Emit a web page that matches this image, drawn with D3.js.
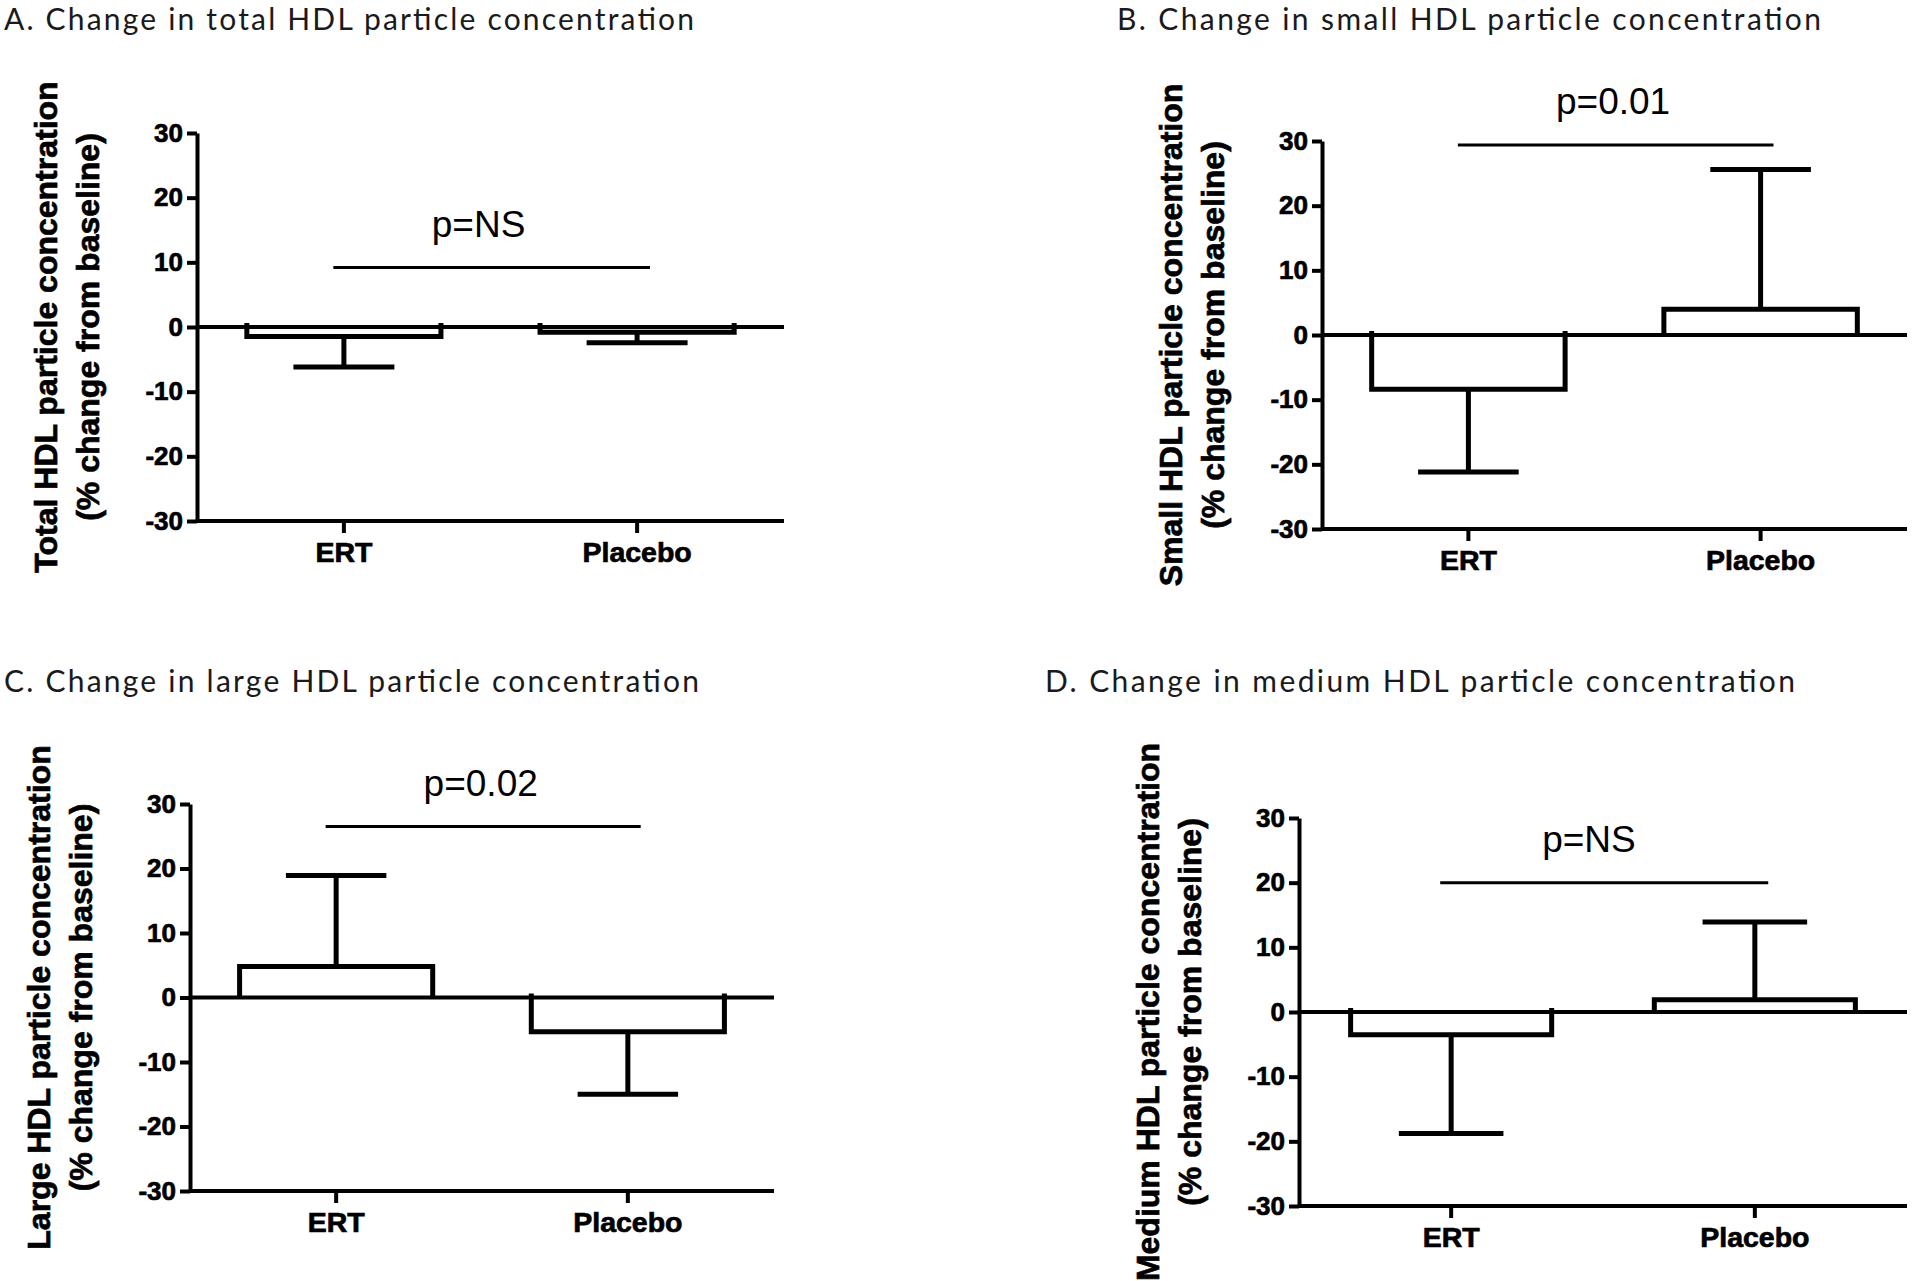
<!DOCTYPE html>
<html>
<head>
<meta charset="utf-8">
<script src="https://cdn.jsdelivr.net/npm/d3@7"></script>
<style>
  html, body { margin: 0; padding: 0; background: #fff; }
  svg { display: block; }
</style>
</head>
<body>
<script>
// ---------------- data ----------------
const categories = ["ERT", "Placebo"];
const panelTitles = [
  "A. Change in total HDL particle concentration",
  "B. Change in small HDL particle concentration",
  "C. Change in large HDL particle concentration",
  "D. Change in medium HDL particle concentration"
];
const yTitleLine1 = [
  "Total HDL particle concentration",
  "Small HDL particle concentration",
  "Large HDL particle concentration",
  "Medium HDL particle concentration"
];
const yTitleLine2 = "(% change from baseline)";
const yTicks = [-30, -20, -10, 0, 10, 20, 30];
const meanA = [-1.45, -0.8];
const meanB = [-8.4, 4.0];
const meanC = [4.8, -5.3];
const meanD = [-3.5, 1.9];
const errA = [4.75, 1.65];
const errB = [12.8, 21.6];
const errC = [14.1, 9.7];
const errD = [15.3, 12.0];
const pLabels = ["p=NS", "p=0.01", "p=0.02", "p=NS"];
const pLineValue = [9.2, 29.4, 26.5, 20.0];

// ---------------- layout ----------------
const W = 1920, H = 1281;
const layouts = [
  { left: 197, right: 784, top: 133, bottom: 521, tx: 4, ty: 30, tw: 690 },
  { left: 1322, right: 1907, top: 141, bottom: 529, tx: 1117, ty: 30, tw: 704 },
  { left: 190, right: 774, top: 804, bottom: 1191, tx: 4, ty: 692, tw: 695 },
  { left: 1299, right: 1907, top: 818, bottom: 1206, tx: 1045, ty: 692, tw: 750 }
];
const means = [meanA, meanB, meanC, meanD];
const errs = [errA, errB, errC, errD];

const svg = d3.select("body").append("svg")
  .attr("width", W).attr("height", H)
  .attr("viewBox", `0 0 ${W} ${H}`);

const boldFont = "Liberation Sans, Arial, sans-serif";

function boldText(sel, size) {
  sel.attr("font-family", boldFont).attr("font-weight", "bold")
    .attr("font-size", size).attr("fill", "#000")
    .attr("stroke", "#000").attr("stroke-width", 0.7);
}

layouts.forEach((pl, i) => {
  const g = svg.append("g");
  const y = d3.scaleLinear().domain([-30, 30]).range([pl.bottom, pl.top]);
  const x = d3.scaleBand().domain(categories)
    .range([pl.left, pl.right]).paddingInner(0.338).paddingOuter(0.17);
  const Wp = pl.right - pl.left;

  // title
  g.append("text")
    .attr("x", pl.tx).attr("y", pl.ty)
    .attr("font-family", "Lato, 'Open Sans', sans-serif")
    .attr("font-size", 30)
    .attr("textLength", pl.tw).attr("lengthAdjust", "spacing")
    .attr("fill", "#1a1a1a")
    .text(panelTitles[i]);

  // y axis
  const yAx = g.append("g")
    .attr("transform", `translate(${pl.left},0)`)
    .call(d3.axisLeft(y).tickValues(yTicks).tickFormat(d => String(d))
      .tickSize(10).tickSizeOuter(0).tickPadding(4));
  yAx.selectAll("path, line").attr("stroke", "#000").attr("stroke-width", 4);
  boldText(yAx.selectAll("text"), 26);

  // x axis
  const xAx = g.append("g")
    .attr("transform", `translate(0,${pl.bottom})`)
    .call(d3.axisBottom(x).tickSize(12).tickSizeOuter(0).tickPadding(9));
  xAx.select("path.domain").attr("d", `M${pl.left},0H${pl.right}`);
  xAx.selectAll("path, line").attr("stroke", "#000").attr("stroke-width", 4);
  boldText(xAx.selectAll("text"), 28.5);

  // y axis titles
  const cy = (pl.top + pl.bottom) / 2;
  [yTitleLine1[i], yTitleLine2].forEach((t, k) => {
    const xx = pl.left - (k === 0 ? 140 : 98);
    const tt = g.append("text")
      .attr("transform", `translate(${xx},${cy}) rotate(-90)`)
      .attr("text-anchor", "middle")
      .text(t);
    boldText(tt, 32);
  });

  // bars (open boxes from zero; sides poke slightly past the zero line)
  const data = categories.map((c, j) => ({ c, m: means[i][j], e: errs[i][j] }));
  g.selectAll("path.bar").data(data).enter().append("path")
    .attr("class", "bar")
    .attr("d", d => {
      const x0 = x(d.c), x1 = x(d.c) + x.bandwidth();
      const y0 = y(0), ym = y(d.m);
      const stub = d.m < 0 ? -4 : 0;
      return `M${x0},${y0 + stub}V${ym}H${x1}V${y0 + stub}`;
    })
    .attr("fill", "#fff").attr("stroke", "#000").attr("stroke-width", 5);

  // error bars (one-sided, away from zero)
  const capW = 0.172 * Wp;
  data.forEach(d => {
    const cx = x(d.c) + x.bandwidth() / 2;
    const end = d.m + Math.sign(d.m) * d.e;
    g.append("line").attr("x1", cx).attr("x2", cx)
      .attr("y1", y(d.m)).attr("y2", y(end))
      .attr("stroke", "#000").attr("stroke-width", 5);
    g.append("line").attr("x1", cx - capW / 2).attr("x2", cx + capW / 2)
      .attr("y1", y(end)).attr("y2", y(end))
      .attr("stroke", "#000").attr("stroke-width", 5);
  });

  // zero line
  g.append("line").attr("x1", pl.left).attr("x2", pl.right)
    .attr("y1", y(0)).attr("y2", y(0))
    .attr("stroke", "#000").attr("stroke-width", 4);

  // significance line + label
  const c0 = x(categories[0]) + x.bandwidth() / 2;
  const c1 = x(categories[1]) + x.bandwidth() / 2;
  g.append("line")
    .attr("x1", c0 - 0.018 * Wp).attr("x2", c1 + 0.022 * Wp)
    .attr("y1", y(pLineValue[i])).attr("y2", y(pLineValue[i]))
    .attr("stroke", "#000").attr("stroke-width", 3);
  g.append("text")
    .attr("x", pl.left + 0.40 * Wp)
    .attr("y", y(pLineValue[i]) - 31)
    .attr("font-family", "Liberation Sans, Arial, sans-serif")
    .attr("font-size", 37).attr("fill", "#000")
    .text(pLabels[i]);
});
</script>
</body>
</html>
